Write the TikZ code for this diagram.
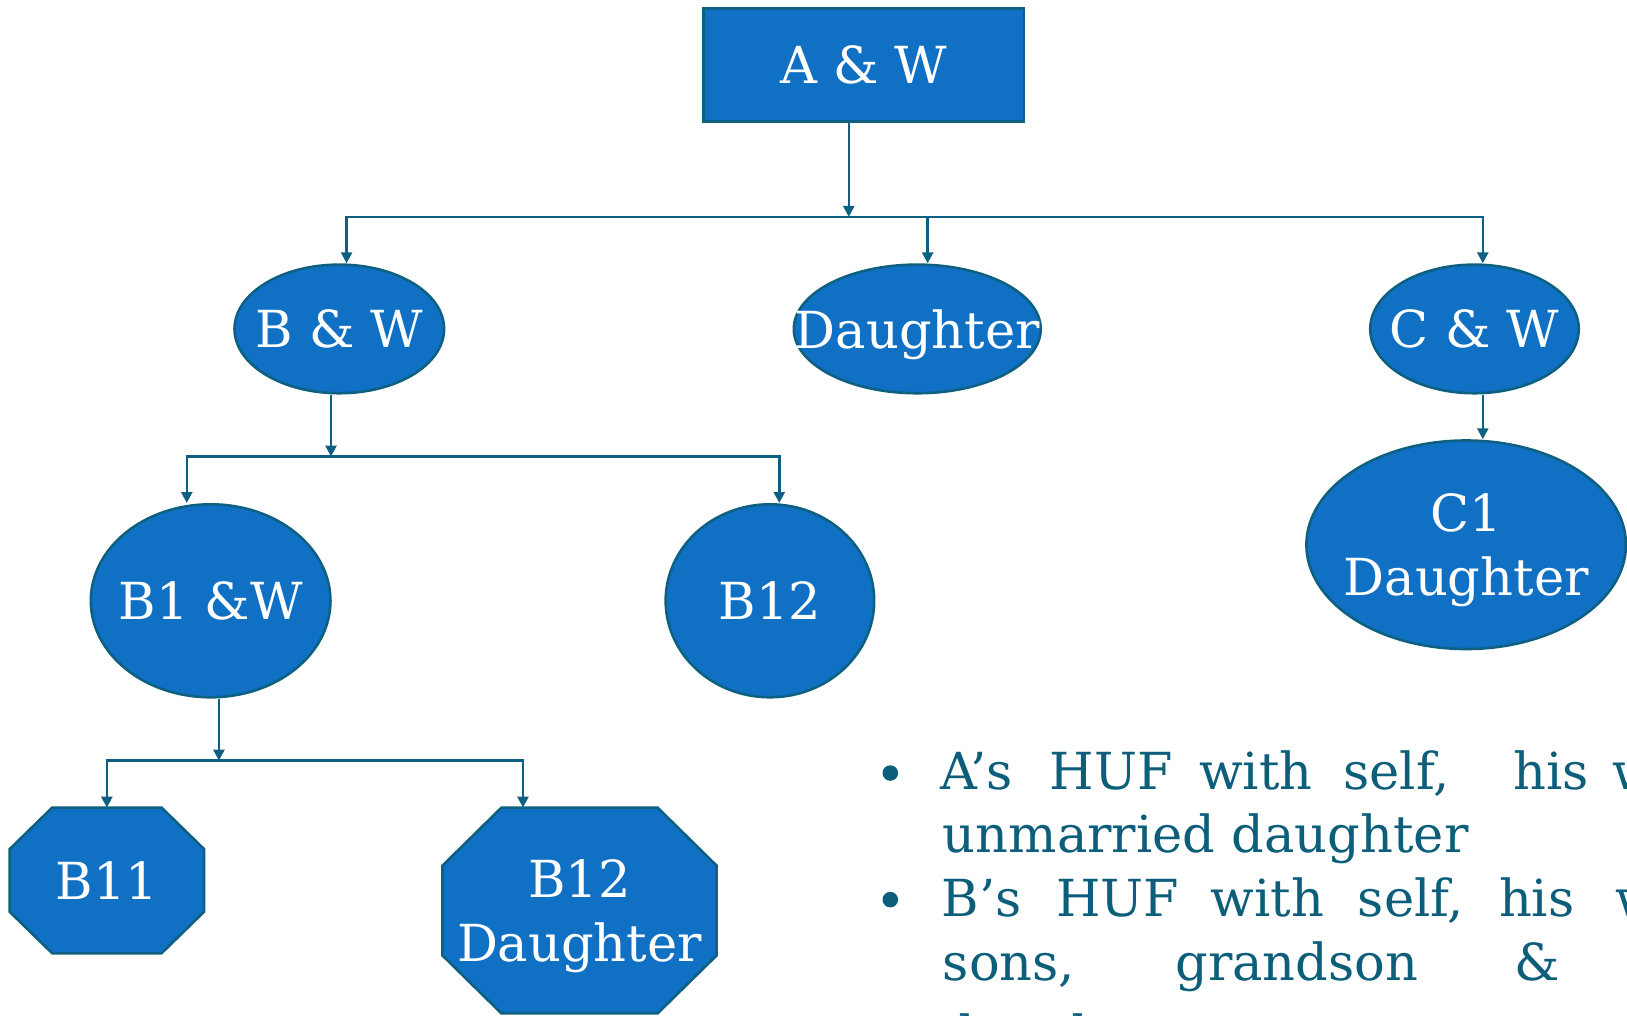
\documentclass[tikz,border=0pt]{standalone}
\usepackage{fontspec}
\setmainfont{DejaVu Serif}
\usetikzlibrary{shapes.geometric,arrows.meta,backgrounds,calc}

\definecolor{huffill}{RGB}{16,112,196}
\definecolor{hufline}{RGB}{14,96,128}
\definecolor{huftext}{RGB}{12,94,122}

% label that does not widen its node
\newcommand{\zw}[1]{\makebox[0pt]{#1}}
% octagon round a named node: #2 x cut, #3 y cut
\newcommand{\octagon}[3]{%
  \filldraw[draw=hufline, fill=huffill, line width=0.7pt]
    ($(#1.north west)+(#2,0)$) -- ($(#1.north east)+(-#2,0)$)
    -- ($(#1.north east)+(0,-#3)$) -- ($(#1.south east)+(0,#3)$)
    -- ($(#1.south east)+(-#2,0)$) -- ($(#1.south west)+(#2,0)$)
    -- ($(#1.south west)+(0,#3)$) -- ($(#1.north west)+(0,-#3)$) -- cycle;}

\tikzset{
  member/.style={draw=hufline, fill=huffill, line width=0.7pt, text=white,
    font=\fontsize{14}{17.5}\selectfont, inner sep=0pt, align=center, text depth=0pt},
  oval/.style={member, ellipse},
  octo/.style={inner sep=0pt, text=white, font=\fontsize{14}{17.5}\selectfont,
    align=center, text depth=0pt},
  conn/.style={draw=hufline, line width=0.7pt},
  arr/.style={conn, -{Triangle[length=3pt,width=3pt]}},
  arrs/.style={conn, {Triangle[length=3pt,width=3pt]}-{Triangle[length=3pt,width=3pt]}},
  bullettxt/.style={text=huftext, font=\fontsize{14}{17}\selectfont, inner sep=0pt, anchor=base west},
  dot/.style={circle, fill=huftext, minimum size=0.15cm, inner sep=0pt},
}

\begin{document}
\begin{tikzpicture}
  \useasboundingbox (0,0) rectangle (15.68,-9.79);
  \clip (0,0) rectangle (15.68,-9.79);

  % family tree
  \node[member, minimum width=3.09cm, minimum height=1.09cm] (aw) at (8.325,-0.625) {A \& W};
  \node[oval, minimum width=2.02cm, minimum height=1.24cm] (bw) at (3.27,-3.17) {\zw{B \& W}};
  \node[oval, minimum width=2.38cm, minimum height=1.24cm] (dau) at (8.84,-3.17) {\zw{Daughter}};
  \node[oval, minimum width=2.01cm, minimum height=1.24cm] (cw) at (14.21,-3.17) {\zw{C \& W}};
  \node[oval, minimum width=2.31cm, minimum height=1.86cm] (b1w) at (2.03,-5.79) {\zw{B1 \&W}};
  \node[oval, minimum width=2.01cm, minimum height=1.86cm] (b12) at (7.42,-5.79) {\zw{B12}};
  \node[oval, minimum width=3.08cm, minimum height=2.01cm] (c1d) at (14.13,-5.25) {\zw{C1}\\\zw{Daughter}};
  \node[octo, minimum width=1.86cm, minimum height=1.39cm] (b11) at (1.03,-8.485) {B11};
  \node[octo, minimum width=2.63cm, minimum height=1.97cm] (b12d) at (5.585,-8.775) {B12\\Daughter};
  \begin{scope}[on background layer]
    \octagon{b11}{0.41}{0.40}
    \octagon{b12d}{0.57}{0.56}
  \end{scope}

  % connectors
  \coordinate (busA) at (8.18,-2.09);
  \coordinate (busAl) at (3.34,-2.09);
  \coordinate (busAm) at (8.94,-2.09);
  \coordinate (busAr) at (14.29,-2.09);
  \draw[arr] (aw.south -| busA) -- (busA);
  \draw[arrs] (bw.north -| busAl) -- (busAl) -- (busAr) -- (cw.north -| busAr);
  \draw[arr] (busAm) -- (busAm |- dau.north);
  \draw[arr] (busAr |- cw.south) -- (busAr |- c1d.north);

  \coordinate (busB) at (3.19,-4.40);
  \coordinate (busBl) at (1.80,-4.40);
  \coordinate (busBr) at (7.51,-4.40);
  \draw[arr] (busB |- bw.south) -- (busB);
  \draw[arrs] (b1w.north -| busBl) -- (busBl) -- (busBr) -- (b12.north -| busBr);

  \coordinate (busC) at (2.11,-7.33);
  \coordinate (busCl) at (1.03,-7.33);
  \coordinate (busCr) at (5.04,-7.33);
  \draw[arr] (busC |- b1w.south) -- (busC);
  \draw[arrs] (b11.north -| busCl) -- (busCl) -- (busCr) -- (b12d.north -| busCr);

  % notes
  \node[dot] (dot1) at (8.58,-7.45) {};
  \node[dot] (dot2) at (8.58,-8.67) {};
  \foreach \x/\w [count=\i] in {9.06/A’s, 10.11/HUF, 11.55/with, 12.94/{self,}, 14.58/his, 15.53/w}
    \node[bullettxt] (la\i) at (\x,-7.61) {\w};
  \node[bullettxt] (lb) at (9.08,-8.22) {unmarried daughter};
  \foreach \x/\w [count=\i] in {9.07/B’s, 10.17/HUF, 11.66/with, 13.08/{self,}, 14.44/his, 15.56/w}
    \node[bullettxt] (lc\i) at (\x,-8.83) {\w};
  \foreach \x/\w [count=\i] in {9.08/{sons,}, 11.32/grandson, 14.59/\&}
    \node[bullettxt] (ld\i) at (\x,-9.45) {\w};
  \node[bullettxt] (le) at (9.08,-10.14) {daughter};
\end{tikzpicture}
\end{document}
